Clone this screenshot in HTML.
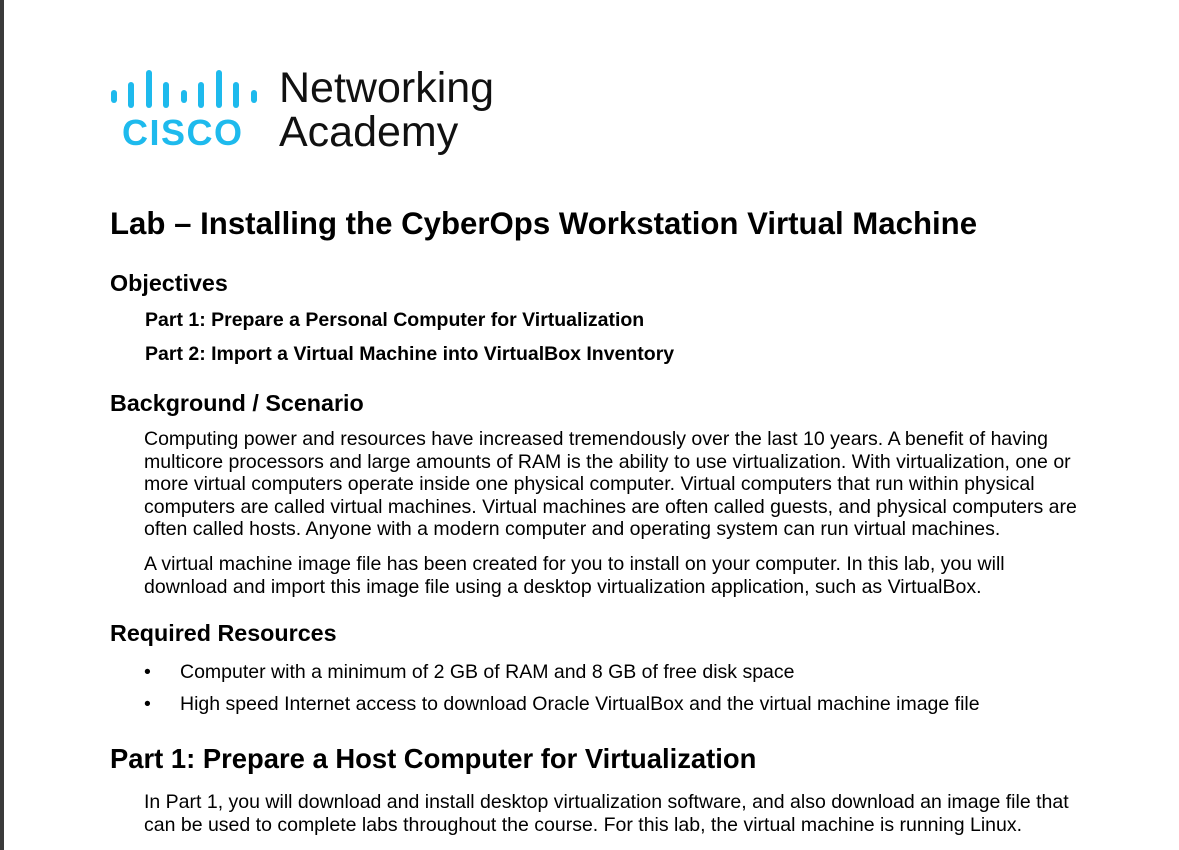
<!DOCTYPE html>
<html><head><meta charset="utf-8"><style>
body{margin:0;width:1179px;height:850px;background:#fff;position:relative;overflow:hidden;font-family:"Liberation Sans",Arial,sans-serif;color:#000}
.bar{position:absolute;left:0;top:0;width:4px;height:850px;background:#3a3a3a}
.t{position:absolute;white-space:nowrap}
.lb{position:absolute;width:6px;border-radius:3px;background:#1ebaed}
</style></head><body>
<div class="bar"></div>
<div class="lb" style="left:111px;top:90px;height:13px"></div>
<div class="lb" style="left:128px;top:82px;height:26px"></div>
<div class="lb" style="left:146px;top:70px;height:38px"></div>
<div class="lb" style="left:163px;top:82px;height:26px"></div>
<div class="lb" style="left:181px;top:90px;height:13px"></div>
<div class="lb" style="left:198px;top:82px;height:26px"></div>
<div class="lb" style="left:216px;top:70px;height:38px"></div>
<div class="lb" style="left:233px;top:82px;height:26px"></div>
<div class="lb" style="left:251px;top:90px;height:13px"></div>
<div class="t" style="left:122px;top:113px;font-size:36px;font-weight:bold;color:#1ebaed;letter-spacing:1.5px;line-height:40px">CISCO</div>
<div class="t" style="left:279px;top:63px;font-size:43px;line-height:50px;color:#111">Networking</div>
<div class="t" style="left:279px;top:107px;font-size:43px;line-height:50px;color:#111">Academy</div>

<div class="t" style="left:110px;top:206px;font-size:31.2px;font-weight:bold;line-height:36px">Lab – Installing the CyberOps Workstation Virtual Machine</div>
<div class="t" style="left:110px;top:270px;font-size:23.3px;font-weight:bold;line-height:26px">Objectives</div>
<div class="t" style="left:145px;top:309px;font-size:19.5px;font-weight:bold;line-height:22px">Part 1: Prepare a Personal Computer for Virtualization</div>
<div class="t" style="left:145px;top:343px;font-size:19.5px;font-weight:bold;line-height:22px">Part 2: Import a Virtual Machine into VirtualBox Inventory</div>
<div class="t" style="left:110px;top:390px;font-size:23.3px;font-weight:bold;line-height:26px">Background / Scenario</div>
<div class="t" style="left:144px;top:428px;font-size:19.5px;line-height:22.6px">Computing power and resources have increased tremendously over the last 10 years. A benefit of having<br>multicore processors and large amounts of RAM is the ability to use virtualization. With virtualization, one or<br>more virtual computers operate inside one physical computer. Virtual computers that run within physical<br>computers are called virtual machines. Virtual machines are often called guests, and physical computers are<br>often called hosts. Anyone with a modern computer and operating system can run virtual machines.</div>
<div class="t" style="left:144px;top:553px;font-size:19.5px;line-height:22.6px">A virtual machine image file has been created for you to install on your computer. In this lab, you will<br>download and import this image file using a desktop virtualization application, such as VirtualBox.</div>
<div class="t" style="left:110px;top:620px;font-size:23.3px;font-weight:bold;line-height:26px">Required Resources</div>
<div class="t" style="left:144px;top:661px;font-size:19.5px;line-height:22px">•</div>
<div class="t" style="left:180px;top:661px;font-size:19.5px;line-height:22px">Computer with a minimum of 2 GB of RAM and 8 GB of free disk space</div>
<div class="t" style="left:144px;top:693px;font-size:19.5px;line-height:22px">•</div>
<div class="t" style="left:180px;top:693px;font-size:19.5px;line-height:22px">High speed Internet access to download Oracle VirtualBox and the virtual machine image file</div>
<div class="t" style="left:110px;top:743px;font-size:27.4px;font-weight:bold;line-height:32px">Part 1: Prepare a Host Computer for Virtualization</div>
<div class="t" style="left:144px;top:791px;font-size:19.5px;line-height:22.6px">In Part 1, you will download and install desktop virtualization software, and also download an image file that<br>can be used to complete labs throughout the course. For this lab, the virtual machine is running Linux.</div>
</body></html>
